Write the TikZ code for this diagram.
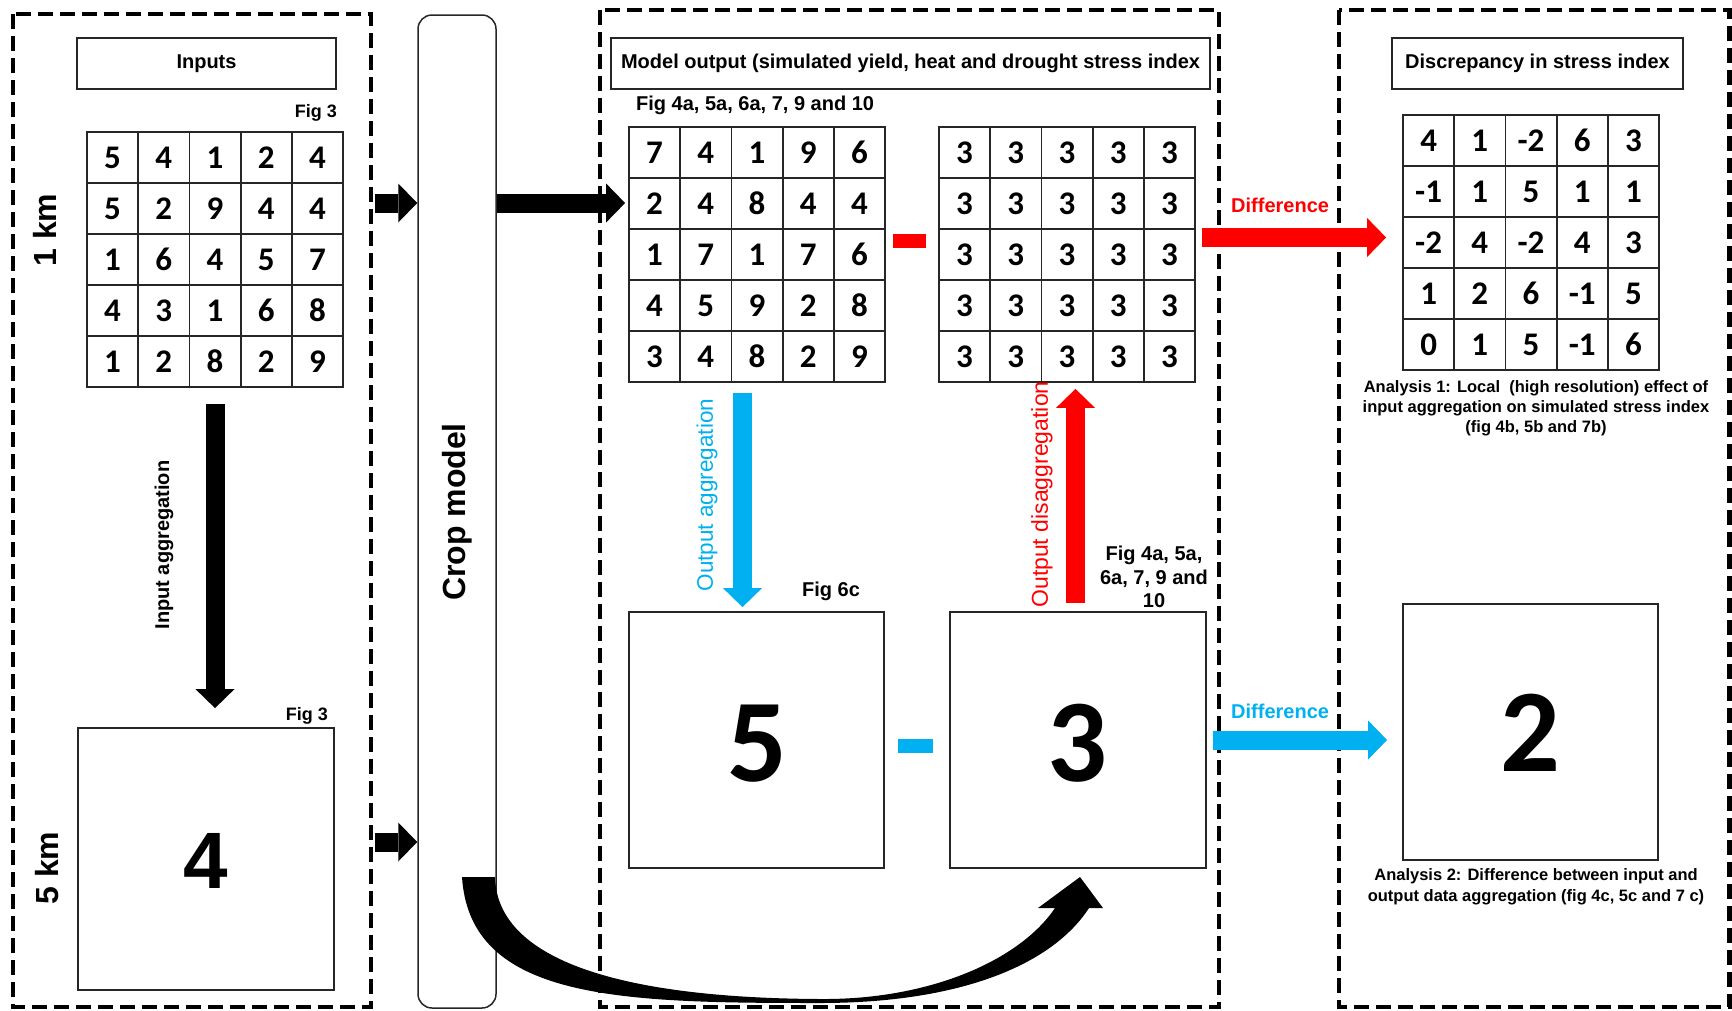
\documentclass[tikz,border=0pt]{standalone}
\usepackage{fontspec}
\setmainfont{Liberation Sans}
\newfontfamily\calfont{Carlito}
\usetikzlibrary{arrows.meta,calc}
\definecolor{cblue}{HTML}{00B0F0}
\definecolor{cred}{HTML}{FF0000}
\newcommand{\myfs}[1]{\fontsize{#1}{#1}\selectfont}
\newcommand{\mygrid}[4]{% name, left x, top y, rows
  \foreach \row [count=\r] in {#4} {
    \foreach \v [count=\c] in \row {
      \node[cell] (#1-\r-\c) at ({#2+(\c-0.5)*51.2},{#3+(\r-0.5)*51}) {\v};
    }
  }
}
\begin{document}
\begin{tikzpicture}[x=1pt,y=-1pt,
  dbox/.style={draw=black, line width=4.5pt, dash pattern=on 15pt off 7pt},
  hbox/.style={draw=black!85, line width=1.8pt, inner sep=0pt, minimum height=51pt, font=\bfseries\myfs{20}},
  cell/.style={draw=black!85, line width=1.8pt, minimum width=51.2pt, minimum height=51pt, inner sep=0pt, font=\calfont\bfseries\myfs{33}},
  bigbox/.style={draw=black!85, line width=1.8pt, minimum width=256pt, minimum height=256pt, inner sep=0pt},
  barrow/.style={line width=19pt, -{Triangle[width=39pt,length=19pt,line width=0pt]}},
  lbl/.style={inner sep=0pt, font=\bfseries\myfs{20}},
]
\useasboundingbox (0,0) rectangle (1732,1010);

% dashed panels
\draw[dbox] (13,14) rectangle (371,1007);
\draw[dbox] (600,10) rectangle (1219,1007);
\draw[dbox] (1339,10) rectangle (1729.5,1007);

% header boxes
\node[hbox, minimum width=259pt] (hin) at (206.5,63.5) {Inputs};
\node[hbox, minimum width=599pt] (hout) at (910.5,63.5) {Model output (simulated yield, heat and drought stress index};
\node[hbox, minimum width=291pt] (hdis) at (1537.5,63.5) {Discrepancy in stress index};

% crop model
\node[draw=black!85, line width=1.5pt, rounded corners=14pt, minimum width=78pt, minimum height=993pt, inner sep=0pt] (crop) at (457,511.5) {};
\node[rotate=90, inner sep=0pt, font=\bfseries\myfs{32}] (croplbl) at (457,512) {Crop model};

% grids
\mygrid{ga}{87}{132}{{5,4,1,2,4},{5,2,9,4,4},{1,6,4,5,7},{4,3,1,6,8},{1,2,8,2,9}}
\mygrid{gb}{629}{127}{{7,4,1,9,6},{2,4,8,4,4},{1,7,1,7,6},{4,5,9,2,8},{3,4,8,2,9}}
\mygrid{gc}{939}{127}{{3,3,3,3,3},{3,3,3,3,3},{3,3,3,3,3},{3,3,3,3,3},{3,3,3,3,3}}
\mygrid{gd}{1403}{115}{{4,1,-2,6,3},{-1,1,5,1,1},{-2,4,-2,4,3},{1,2,6,-1,5},{0,1,5,-1,6}}

% big boxes
\node[bigbox, minimum height=262pt] (box4) at (206,859) {};
\node[font=\bfseries\myfs{80}, inner sep=0pt] (v4) at (206,861) {4};
\node[bigbox, minimum width=255pt] (box5) at (756.5,740) {};
\node[font=\calfont\bfseries\myfs{118}, inner sep=0pt] (v5) at (757,744) {5};
\node[bigbox] (box3) at (1078,740) {};
\node[font=\calfont\bfseries\myfs{118}, inner sep=0pt] (v3) at (1077,743) {3};
\node[bigbox, minimum width=255pt] (box2) at (1530.5,732) {};
\node[font=\calfont\bfseries\myfs{118}, inner sep=0pt] (v2) at (1530,733) {2};

% minus signs
\node[fill=cred, minimum width=33pt, minimum height=14pt, inner sep=0pt] (mred) at (909.5,241) {};
\node[fill=cblue, minimum width=35pt, minimum height=14pt, inner sep=0pt] (mblue) at (915.5,746) {};

% labels
\node[lbl, anchor=east, font=\bfseries\myfs{18}] (fig3a) at (337,113) {Fig 3};
\node[lbl, anchor=east, font=\bfseries\myfs{18}] (fig3b) at (328,716) {Fig 3};
\node[lbl, anchor=west] (fig4top) at (636,105) {Fig 4a, 5a, 6a, 7, 9 and 10};
\node[lbl, anchor=west] (fig6c) at (802,591) {Fig 6c};
\node[lbl, align=center, font=\bfseries\fontsize{20}{23.5}\selectfont] (fig4side) at (1154,577) {Fig 4a, 5a,\\6a, 7, 9 and\\10};
\node[lbl, anchor=west, text=cred] (difr) at (1231,205) {Difference};
\node[lbl, anchor=west, text=cblue] (difb) at (1231,711) {Difference};
\node[rotate=90, inner sep=0pt, font=\myfs{22.5}, text=cblue] (oagg) at (707,495) {Output aggregation};
\node[rotate=90, inner sep=0pt, font=\myfs{23}, text=cred] (odis) at (1042,494.5) {Output disaggregation};
\node[rotate=90, inner sep=0pt, font=\bfseries\myfs{20}] (iagg) at (164,545) {Input aggregation};
\node[rotate=90, inner sep=0pt, font=\bfseries\myfs{32}] (km1) at (45,230) {1 km};
\node[rotate=90, inner sep=0pt, font=\bfseries\myfs{32}] (km5) at (47,868) {5 km};
\node[inner sep=0pt, align=center, font=\bfseries\fontsize{16.5}{20}\selectfont] (an1) at (1536,408) {Analysis 1: Local~~(high resolution) effect of\\input aggregation on simulated stress index\\(fig 4b, 5b and 7b)};
\node[inner sep=0pt, align=center, font=\bfseries\fontsize{16.5}{21}\selectfont] (an2) at (1536,886.5) {Analysis 2: Difference between input and\\output data aggregation (fig 4c, 5c and 7 c)};

% arrows
\coordinate (aA) at (375,203);
\coordinate (aB) at (375,842);
\draw[barrow] (aA) -- (aA -| crop.west);
\draw[barrow] (aB) -- (aB -| crop.west);
\draw[barrow, shorten >=3pt] (crop.east |- aA) -- (aA -| gb-2-1.west);
\draw[barrow, shorten <=16pt, shorten >=19pt] (ga-5-3.south) -- (ga-5-3.south |- box4.north);
\coordinate (bd) at (742.5,393);
\draw[barrow, cblue, shorten >=4pt] (bd) -- (bd |- box5.north);
\coordinate (ru) at (1075.5,603);
\draw[barrow, cred, shorten >=6pt] (ru) -- (ru |- gc-5-3.south);
\coordinate (rr) at (1202,237.5);
\draw[barrow, cred, shorten >=16pt] (rr) -- (rr -| gd-3-1.west);
\draw[barrow, cblue, shorten <=6pt, shorten >=15pt] (box3.east) -- (box3.east -| box2.west);

% curved arrow from crop model to the 5 km output box
\fill[black] (462,877) .. controls (470,1000) and (620,1003) .. (820,1003)
  .. controls (960,1003) and (1052,965) .. (1089,908) -- (1103,908) -- (1080,877) -- (1038,908) -- (1055,908)
  .. controls (1020,960) and (930,1000) .. (820,999)
  .. controls (620,998) and (497,960) .. (495,877) -- cycle;
\end{tikzpicture}
\end{document}
